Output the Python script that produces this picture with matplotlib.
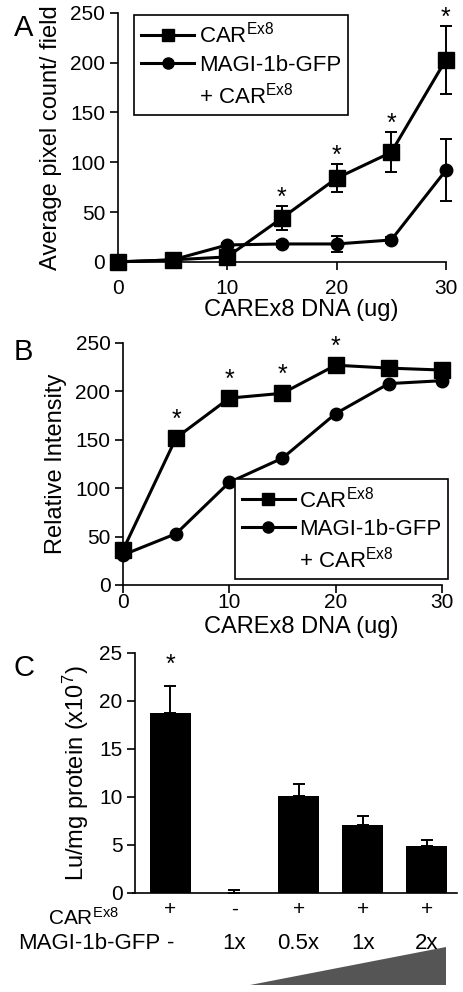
import numpy as np
import matplotlib
matplotlib.use("Agg")
import matplotlib.pyplot as plt
from matplotlib.lines import Line2D
from matplotlib.patches import Polygon
import matplotlib.transforms as mtransforms

plt.rcParams['font.family'] = ['Liberation Sans', 'DejaVu Sans']
plt.rcParams['mathtext.fontset'] = 'custom'
plt.rcParams['mathtext.rm'] = 'Liberation Sans'
plt.rcParams['mathtext.it'] = 'Liberation Sans'

# panel A - pixel count
dna_a = [0, 5, 10, 15, 20, 25, 30]
car_a = [0, 2, 5, 44, 84, 110, 203]
car_a_err = [0, 1, 3, 12, 14, 20, 34]
magi_a = [0, 2, 17, 18, 18, 22, 92]
magi_a_err = [0, 1, 2, 3, 8, 3, 31]
star_a = [15, 20, 25, 30]

# panel B - relative intensity
dna_b = [0, 5, 10, 15, 20, 25, 30]
car_b = [36, 152, 193, 198, 227, 224, 222]
magi_b = [31, 53, 106, 131, 177, 208, 211]
star_b = [5, 10, 15, 20]

# panel C - luciferase
lu = [18.7, 0.0, 10.1, 7.1, 4.9]
lu_err = [2.9, 0.3, 1.2, 0.9, 0.6]
car_row = ['+', '-', '+', '+', '+']
magi_row = ['-', '1x', '0.5x', '1x', '2x']

CAR = r'CAR$^{\mathrm{Ex8}}$'
tick_fs = 15
lab_fs = 17

fig = plt.figure(figsize=(4.64, 9.92), dpi=100)


def style(ax):
    for s in ['top', 'right']:
        ax.spines[s].set_visible(False)
    for s in ['left', 'bottom']:
        ax.spines[s].set_linewidth(1.2)
    ax.tick_params(direction='out', length=6, width=1.2, labelsize=tick_fs, pad=3)


def make_legend(ax, loc, bbox):
    handles = [Line2D([], [], color='black', lw=2.2, marker='s', ms=9),
               Line2D([], [], color='black', lw=2.2, marker='o', ms=8),
               Line2D([], [], color='none')]
    labels = [CAR, 'MAGI-1b-GFP', '+ ' + CAR]
    leg = ax.legend(handles, labels, loc=loc, bbox_to_anchor=bbox, fontsize=16,
                    fancybox=False, frameon=True, edgecolor='black', framealpha=1,
                    handlelength=2.4, handletextpad=0.2, borderpad=0.3,
                    labelspacing=0.3, numpoints=1, borderaxespad=0)
    leg.get_frame().set_linewidth(1.2)
    return leg


# ---- A ----
axA = fig.add_axes([0.254, 0.736, 0.707, 0.251])
style(axA)
axA.errorbar(dna_a, car_a, yerr=car_a_err, color='black', lw=2.2, marker='s', ms=11,
             elinewidth=1.4, capsize=4, capthick=1.4, clip_on=False, zorder=3)
axA.errorbar(dna_a, magi_a, yerr=magi_a_err, color='black', lw=2.2, marker='o', ms=9,
             elinewidth=1.4, capsize=4, capthick=1.4, clip_on=False, zorder=3)
for x in star_a:
    i = dna_a.index(x)
    axA.annotate('*', (x, car_a[i] + car_a_err[i]), xytext=(0, 1), textcoords='offset points',
                 ha='center', va='baseline', fontsize=18, annotation_clip=False)
axA.set_xlim(0, 30)
axA.set_ylim(0, 250)
axA.set_xticks([0, 10, 20, 30])
axA.set_yticks([0, 50, 100, 150, 200, 250])
axA.tick_params(axis='x', pad=6)
axA.set_ylabel('Average pixel count/ field', fontsize=lab_fs, labelpad=6)
axA.set_xlabel('CAREx8 DNA (ug)', fontsize=lab_fs)
axA.xaxis.set_label_coords(0.56, -0.15)
make_legend(axA, 'upper left', (0.05, 0.99))
fig.text(0.03, 0.972, 'A', fontsize=21, va='center')

# ---- B ----
axB = fig.add_axes([0.265, 0.4103, 0.6875, 0.244])
style(axB)
axB.plot(dna_b, car_b, color='black', lw=2.2, marker='s', ms=11, clip_on=False, zorder=3)
axB.plot(dna_b, magi_b, color='black', lw=2.2, marker='o', ms=9, clip_on=False, zorder=3)
for x in star_b:
    i = dna_b.index(x)
    axB.annotate('*', (x, car_b[i]), xytext=(0, 8), textcoords='offset points',
                 ha='center', va='baseline', fontsize=18, annotation_clip=False)
axB.set_xlim(0, 30)
axB.set_ylim(0, 250)
axB.set_xticks([0, 10, 20, 30])
axB.set_yticks([0, 50, 100, 150, 200, 250])
axB.tick_params(axis='x', pad=0)
axB.set_ylabel('Relative Intensity', fontsize=lab_fs, labelpad=6)
axB.set_xlabel('CAREx8 DNA (ug)', fontsize=lab_fs)
axB.xaxis.set_label_coords(0.56, -0.128)
make_legend(axB, 'lower right', (1.02, 0.025))
fig.text(0.03, 0.645, 'B', fontsize=21, va='center')

# ---- C ----
axC = fig.add_axes([0.291, 0.0998, 0.694, 0.242])
style(axC)
xc = np.arange(len(lu))
axC.bar(xc, lu, width=0.64, color='black', zorder=2)
axC.errorbar(xc, lu, yerr=[np.zeros(len(lu)), lu_err], fmt='none', ecolor='black',
             elinewidth=1.4, capsize=4, capthick=1.4, zorder=1)
axC.annotate('*', (xc[0], lu[0] + lu_err[0]), xytext=(0, 10), textcoords='offset points',
             ha='center', va='baseline', fontsize=18, annotation_clip=False)
axC.set_xlim(-0.55, 4.47)
axC.set_ylim(0, 25)
axC.set_yticks([0, 5, 10, 15, 20, 25])
axC.set_xticks([])
axC.spines['bottom'].set_bounds(-0.58, 4.47)
axC.set_ylabel(r'Lu/mg protein (x10$^{7}$)', fontsize=lab_fs, labelpad=6)
trans = mtransforms.blended_transform_factory(axC.transData, axC.transAxes)
for i, (c, m) in enumerate(zip(car_row, magi_row)):
    axC.text(xc[i], -0.067, c, transform=trans, ha='center', va='center', fontsize=tick_fs)
    axC.text(xc[i], -0.233, m, transform=trans, ha='center', va='baseline', fontsize=16)
axC.text(-0.05, -0.133, CAR, transform=axC.transAxes, ha='right', va='baseline', fontsize=15)
axC.text(0.078, -0.233, 'MAGI-1b-GFP', transform=axC.transAxes, ha='right', va='baseline',
         fontsize=16)
tri = Polygon([(1.25, -0.383), (4.3, -0.383), (4.3, -0.225)], closed=True,
              transform=trans, facecolor='#555555', edgecolor='none', clip_on=False)
axC.add_patch(tri)
fig.text(0.03, 0.327, 'C', fontsize=21, va='center')

fig.savefig('out.png', dpi=100)
